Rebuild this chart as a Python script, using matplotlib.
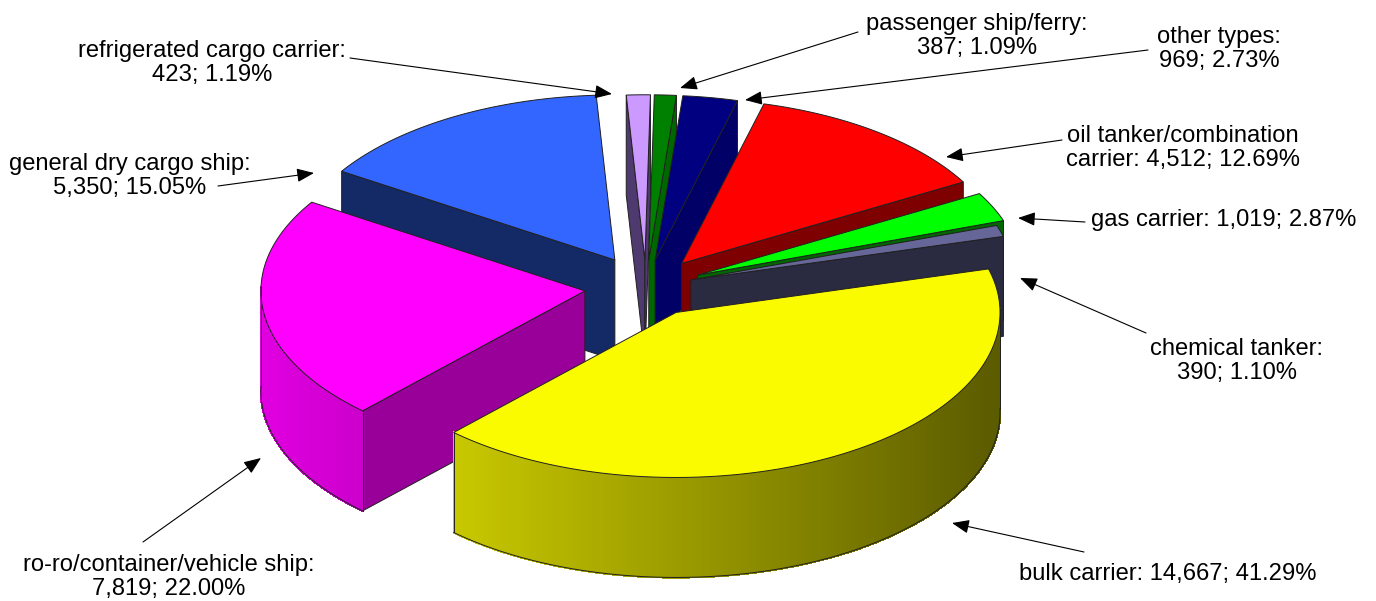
import numpy as np
import matplotlib
matplotlib.use('Agg')
import matplotlib.pyplot as plt

names = ['bulk carrier', 'ro-ro/container/vehicle ship', 'general dry cargo ship',
         'refrigerated cargo carrier', 'passenger ship/ferry', 'other types',
         'oil tanker/combination\ncarrier', 'gas carrier', 'chemical tanker']
counts = [14667, 7819, 5350, 423, 387, 969, 4512, 1019, 390]
percents = [41.29, 22.00, 15.05, 1.19, 1.09, 2.73, 12.69, 2.87, 1.10]

top_colors = ['#fbfb00', '#ff00ff', '#3366ff', '#cc99ff', '#008000', '#000080',
              '#ff0000', '#00ff00', '#666699']
wall_colors = ['#666600', '#990099', '#142a66', '#4f3a70', '#006600', '#000066',
               '#7f0000', '#006600', '#2a2a40']
# clockwise from the first edge of the bulk carrier, painter's order for drawing
draw_order = [2, 3, 4, 5, 6, 7, 8, 1, 0]

# label text centre, arrow tail, arrow head, line break after the name
label_pos = [(1168, 574), (169, 577), (130, 176), (212, 63), (977, 36), (1219, 49),
             (1183, 148), (1224, 220), (1237, 361)]
arrow_tail = [(1084, 552), (143, 542), (218, 186), (350, 58), (858, 32), (1148, 50),
              (1062, 140), (1085, 222), (1146, 333)]
arrow_head = [(952, 523), (261, 458), (314, 173), (612, 94), (680, 88), (745, 100),
              (946, 157), (1018, 218), (1020, 278)]
one_line = [True, False, False, False, False, False, False, True, False]

# pie geometry in pixels
cx, cy = 646, 287
rx, ry = 324, 165
depth = 100
explode = [0.18, 0.19, 0.19, 0.165, 0.165, 0.165, 0.18, 0.175, 0.145]
start = 15.3


def point(t, c):
    return c[0] + rx * np.cos(t), c[1] - ry * np.sin(t)


def shade(color, t):
    rgb = np.array(matplotlib.colors.to_rgb(color))
    return rgb * (0.88 - 0.26 * (np.cos(t) + 1))


edges = start - np.cumsum([0] + percents) * 360 / sum(percents)

fig = plt.figure(figsize=(13.76, 6.01), dpi=100)
ax = fig.add_axes([0, 0, 1, 1])
ax.set_xlim(0, 1376)
ax.set_ylim(601, 0)
ax.axis('off')

line = dict(color='#202020', lw=0.7, solid_joinstyle='round')

for i in draw_order:
    t0, t1 = np.radians(edges[i]), np.radians(edges[i + 1])
    mid = (t0 + t1) / 2
    c = (cx + explode[i] * rx * np.cos(mid), cy - explode[i] * ry * np.sin(mid))
    ts = np.linspace(t0, t1, max(int(edges[i] - edges[i + 1]) * 2, 2) + 1)
    xs, ys = point(ts, c)

    # radial walls that face the viewer
    p0, p1 = point(t0, c), point(t1, c)
    for rim, other in ((p0, p1), (p1, p0)):
        side = (rim[0] - c[0]) * (other[1] - c[1]) - (rim[1] - c[1]) * (other[0] - c[0])
        above = side * (rim[0] - c[0]) < 0
        if above:
            ax.fill([c[0], rim[0], rim[0], c[0]],
                    [c[1], rim[1], rim[1] + depth, c[1] + depth],
                    facecolor=wall_colors[i], edgecolor='#202020', lw=0.7)

    # outer rim, only the front part shows
    front = np.sin(ts) <= 0.03
    if front.sum() > 1:
        fx, fy, ft = xs[front], ys[front], ts[front]
        for j in range(len(fx) - 1):
            ax.fill([fx[j], fx[j + 1], fx[j + 1], fx[j]],
                    [fy[j], fy[j + 1], fy[j + 1] + depth, fy[j] + depth],
                    facecolor=shade(top_colors[i], ft[j]),
                    edgecolor=shade(top_colors[i], ft[j]), lw=1.0, antialiased=False)
        ax.plot(fx, fy + depth, **line)
        ax.plot([fx[0], fx[0]], [fy[0], fy[0] + depth], **line)
        ax.plot([fx[-1], fx[-1]], [fy[-1], fy[-1] + depth], **line)

    ax.fill(np.r_[c[0], xs], np.r_[c[1], ys], facecolor=top_colors[i],
            edgecolor='#202020', lw=0.7)

for i in range(len(names)):
    sep = ' ' if one_line[i] else '\n'
    name = names[i] + ':'
    if '\n' in names[i]:
        text = f'{name} {counts[i]:,}; {percents[i]:.2f}%'
    else:
        text = f'{name}{sep}{counts[i]:,}; {percents[i]:.2f}%'
    ax.text(label_pos[i][0], label_pos[i][1], text, ha='center', va='center',
            family='Liberation Sans', fontsize=17.1, color='black', linespacing=1.17)
    ax.annotate('', xy=arrow_head[i], xytext=arrow_tail[i],
                arrowprops=dict(arrowstyle='-|>,head_length=0.75,head_width=0.3',
                                mutation_scale=14, lw=0.8, color='black',
                                shrinkA=0, shrinkB=0))

fig.savefig('out.png', dpi=100)
